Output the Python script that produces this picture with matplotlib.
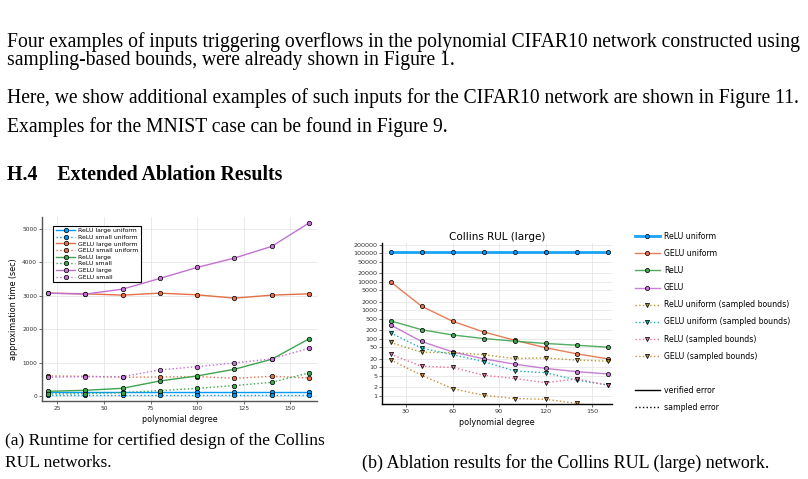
import matplotlib
matplotlib.use("Agg")
import matplotlib.pyplot as plt
from matplotlib.lines import Line2D

# ---- data ----
degrees = [20, 40, 60, 80, 100, 120, 140, 160]

# (a) runtime in seconds
runtime_labels = ["ReLU large uniform", "ReLU small uniform", "GELU large uniform", "GELU small uniform",
                  "ReLU large", "ReLU small", "GELU large", "GELU small"]
relu_large_uniform = [130, 130, 130, 130, 130, 130, 130, 130]
relu_small_uniform = [40, 40, 40, 40, 40, 40, 40, 40]
gelu_large_uniform = [3080, 3060, 3020, 3080, 3030, 2930, 3020, 3060]
gelu_small_uniform = [600, 590, 560, 570, 580, 530, 590, 540]
relu_large = [140, 170, 230, 450, 600, 800, 1100, 1710]
relu_small = [60, 70, 100, 160, 230, 310, 410, 690]
gelu_large = [3080, 3050, 3200, 3520, 3850, 4130, 4480, 5180]
gelu_small = [560, 580, 580, 780, 880, 990, 1110, 1430]

# (b) ablation errors, Collins RUL (large)
ablation_labels = ["ReLU uniform", "GELU uniform", "ReLU", "GELU",
                   "ReLU uniform (sampled bounds)", "GELU uniform (sampled bounds)",
                   "ReLU (sampled bounds)", "GELU (sampled bounds)"]
err_relu_uniform = [110000, 110000, 110000, 110000, 110000, 110000, 110000, 110000]
err_gelu_uniform = [10000, 1400, 415, 175, 90, 49, 30, 20]
err_relu = [430, 210, 137, 103, 83, 69, 60, 51]
err_gelu = [309, 81, 35, 20, 13, 9.2, 7.1, 5.9]
err_relu_uniform_s = [75, 34, 33, 28, 20.5, 21.5, 18, 16.5]
err_gelu_uniform_s = [162, 47.5, 28, 16, 7.5, 6.5, 3.6, 2.4]
err_relu_s = [29, 11, 10, 5.3, 4.1, 2.9, 3.9, 2.4]
err_gelu_s = [18.4, 5.3, 1.8, 1.05, 0.81, 0.76, 0.55, 0.35]

log_ticks = [1, 2, 5, 10, 20, 50, 100, 200, 500, 1000, 2000, 5000,
             10000, 20000, 50000, 100000, 200000]

# julia-ish palette
c_blue, c_red, c_green, c_purple = "#009AFA", "#E36F47", "#3EA44E", "#C271D2"
c_olive, c_cyan, c_pink, c_orange = "#AC8E18", "#00AAAE", "#ED5E93", "#C68225"

W, H = 808, 479
fig = plt.figure(figsize=(W / 100, H / 100), dpi=100)

serif = "Liberation Serif"

def ftext(x, y, s, **kw):
    fig.text(x / W, 1 - y / H, s, family=serif, va="center", ha="left", **kw)

# ---- page text ----
ftext(7, 42, "Four examples of inputs triggering overflows in the polynomial CIFAR10 network constructed using", fontsize=14.1)
ftext(7, 61, "sampling-based bounds, were already shown in Figure 1.", fontsize=14.1)
ftext(7, 98, "Here, we show additional examples of such inputs for the CIFAR10 network are shown in Figure 11.", fontsize=14.1)
ftext(7, 127, "Examples for the MNIST case can be found in Figure 9.", fontsize=14.1)
ftext(7, 175, "H.4    Extended Ablation Results", fontsize=14.3, fontweight="bold")
ftext(5, 441, "(a) Runtime for certified design of the Collins", fontsize=12.5)
ftext(5, 463, "RUL networks.", fontsize=12.5)
ftext(362, 463, "(b) Ablation results for the Collins RUL (large) network.", fontsize=12.95)

# ---- (a) runtime ----
ax1 = fig.add_axes([42 / W, 1 - 401 / H, (317 - 42) / W, (401 - 217) / H])
series_a = [
    (relu_large_uniform, c_blue, "-"),
    (relu_small_uniform, c_blue, ":"),
    (gelu_large_uniform, c_red, "-"),
    (gelu_small_uniform, c_red, ":"),
    (relu_large, c_green, "-"),
    (relu_small, c_green, ":"),
    (gelu_large, c_purple, "-"),
    (gelu_small, c_purple, ":"),
]
for (vals, col, ls), lab in zip(series_a, runtime_labels):
    ax1.plot(degrees, vals, color=col, ls=ls, lw=1.0, marker="o", ms=3.2,
             mfc=col, mec="black", mew=0.5, label=lab)
ax1.set_xlim(16.8, 164.3)
ax1.set_ylim(-150, 5360)
ax1.set_xticks([25, 50, 75, 100, 125, 150])
ax1.set_yticks([0, 1000, 2000, 3000, 4000, 5000])
ax1.grid(True, color="#e6e6e6", lw=0.6)
ax1.set_axisbelow(True)
for s in ["top", "right"]:
    ax1.spines[s].set_visible(False)
for s in ["left", "bottom"]:
    ax1.spines[s].set_color("#555555")
    ax1.spines[s].set_linewidth(1.0)
ax1.tick_params(labelsize=4.2, length=2, width=0.5, pad=1.5, colors="#333333")
ax1.set_ylabel("approximation time (sec)", fontsize=5.8, labelpad=3)
ax1.set_xlabel("polynomial degree", fontsize=5.8, labelpad=3)
leg1 = ax1.legend(loc="upper left", bbox_to_anchor=(0.03, 0.97), fontsize=4.4,
                  frameon=True, fancybox=False, edgecolor="black", framealpha=1,
                  handlelength=3.2, labelspacing=0.22, borderpad=0.4, handletextpad=0.5)
leg1.get_frame().set_linewidth(0.8)

# ---- (b) ablation ----
ax2 = fig.add_axes([382 / W, 1 - 404 / H, (612 - 382) / W, (404 - 243) / H])
series_b = [
    (err_relu_uniform, c_blue, "-", "o", 2.0),
    (err_gelu_uniform, c_red, "-", "o", 1.0),
    (err_relu, c_green, "-", "o", 1.0),
    (err_gelu, c_purple, "-", "o", 1.0),
    (err_relu_uniform_s, c_olive, ":", "v", 1.0),
    (err_gelu_uniform_s, c_cyan, ":", "v", 1.0),
    (err_relu_s, c_pink, ":", "v", 1.0),
    (err_gelu_s, c_orange, ":", "v", 1.0),
]
handles = []
for (vals, col, ls, mk, lw), lab in zip(series_b, ablation_labels):
    h, = ax2.plot(degrees, vals, color=col, ls=ls, lw=lw, marker=mk, ms=3.0,
                  mfc=col, mec="black", mew=0.6, label=lab, alpha=0.9)
    handles.append(h)
ax2.set_yscale("log")
ax2.set_xlim(14.5, 162.9)
ax2.set_ylim(0.52, 2.3e5)
ax2.set_xticks([30, 60, 90, 120, 150])
ax2.set_yticks(log_ticks)
ax2.set_yticklabels([str(t) for t in log_ticks])
ax2.minorticks_off()
ax2.grid(True, color="#e6e6e6", lw=0.6)
ax2.set_axisbelow(True)
for s in ["top", "right"]:
    ax2.spines[s].set_visible(False)
for s in ["left", "bottom"]:
    ax2.spines[s].set_color("black")
    ax2.spines[s].set_linewidth(1.0)
ax2.tick_params(labelsize=4.6, length=2, width=0.5, pad=1.5, colors="#333333")
ax2.set_title("Collins RUL (large)", fontsize=7.5, pad=2)
ax2.set_xlabel("polynomial degree", fontsize=5.8, labelpad=3)

blank = Line2D([], [], color="none", label=" ")
verified = Line2D([], [], color="black", ls="-", lw=1.0, label="verified error")
sampled = Line2D([], [], color="black", ls=":", lw=1.0, label="sampled error")
fig.legend(handles=handles + [blank, verified, sampled],
           loc="upper left", bbox_to_anchor=(628 / W, 1 - 225 / H),
           frameon=False, fontsize=5.6, handlelength=3.2, labelspacing=1.04,
           handletextpad=0.5)

fig.savefig("out.png", dpi=100)
